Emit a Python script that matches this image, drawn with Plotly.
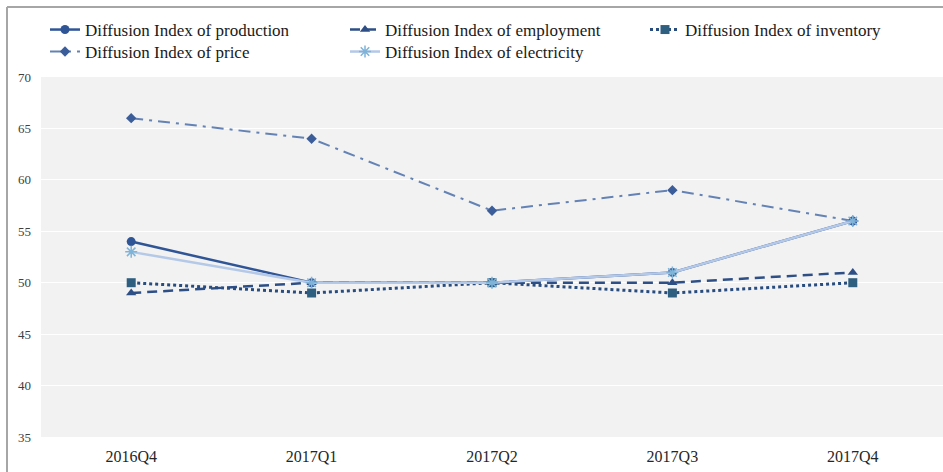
import plotly.graph_objects as go

categories = ["2016Q4", "2017Q1", "2017Q2", "2017Q3", "2017Q4"]
production = [54, 50, 50, 51, 56]
employment = [49, 50, 50, 50, 51]
inventory = [50, 49, 50, 49, 50]
price = [66, 64, 57, 59, 56]
electricity = [53, 50, 50, 51, 56]
y_ticks = [35, 40, 45, 50, 55, 60, 65, 70]

FONT = "Liberation Serif, Times New Roman, serif"

fig = go.Figure()
fig.add_trace(go.Scatter(x=categories, y=production, name="Diffusion Index of production",
                         legend="legend",
                         mode="lines+markers", line=dict(color="#2F5597", width=2.5),
                         marker=dict(symbol="circle", size=9, color="#2F5597")))
fig.add_trace(go.Scatter(x=categories, y=employment, name="Diffusion Index of employment",
                         legend="legend",
                         mode="lines+markers", line=dict(color="#2E4F86", width=2.5, dash="10px,6px"),
                         marker=dict(symbol="triangle-up", size=9, color="#2E4F86")))
fig.add_trace(go.Scatter(x=categories, y=inventory, name="Diffusion Index of inventory",
                         legend="legend",
                         mode="lines+markers", line=dict(color="#284C7E", width=3, dash="dot"),
                         marker=dict(symbol="square", size=9, color="#2F5F80")))
fig.add_trace(go.Scatter(x=categories, y=price, name="Diffusion Index of price",
                         legend="legend2",
                         mode="lines+markers", line=dict(color="#6483B4", width=2, dash="12px,6px,3px,6px"),
                         marker=dict(symbol="diamond", size=8, color="#3B5D99")))
fig.add_trace(go.Scatter(x=categories, y=electricity, name="Diffusion Index of electricity",
                         legend="legend2",
                         mode="lines+markers", line=dict(color="#B4C8E8", width=2.5),
                         marker=dict(symbol="asterisk-open", size=10, color="#7FB3D8",
                                     line=dict(width=1.5, color="#7FB3D8"))))

leg_common = dict(orientation="h", xanchor="left", yanchor="middle",
                  font=dict(family=FONT, size=17, color="#1A1A1A"),
                  entrywidth=255, entrywidthmode="pixels",
                  itemwidth=30, bgcolor="rgba(0,0,0,0)")

PLOT_L, PLOT_T, PLOT_B = 41, 77, 35
PLOT_H = 472 - PLOT_T - PLOT_B
PLOT_W = 943 - PLOT_L

fig.update_layout(
    width=943, height=472,
    margin=dict(l=PLOT_L, r=0, t=PLOT_T, b=PLOT_B, autoexpand=False),
    paper_bgcolor="white",
    plot_bgcolor="#F2F2F2",
    font=dict(family=FONT, size=13, color="#404040"),
    showlegend=True,
    legend=dict(x=4 / PLOT_W, y=(PLOT_H + PLOT_T - 30) / PLOT_H, **leg_common),
    legend2=dict(x=4 / PLOT_W, y=(PLOT_H + PLOT_T - 52) / PLOT_H, **leg_common),
    xaxis=dict(type="category", range=[-0.5, 4.5], showgrid=False, zeroline=False,
               showline=False, ticks="", automargin=False, ticklabelstandoff=8,
               tickfont=dict(family=FONT, size=16, color="#262626")),
    yaxis=dict(range=[35, 70], tickvals=y_ticks, showgrid=True, gridcolor="white",
               gridwidth=1, zeroline=False, showline=False, ticks="", automargin=False,
               ticklabelstandoff=9,
               tickfont=dict(family=FONT, size=13, color="#404040")),
)

# outer frame (left and top edges of the original picture's border)
x_frame = (7 - PLOT_L) / PLOT_W
y_frame = (PLOT_H + PLOT_T - 7) / PLOT_H
fig.add_shape(type="line", xref="paper", yref="paper",
              x0=x_frame, x1=x_frame, y0=-0.2, y1=y_frame,
              line=dict(color="#A6A6A6", width=2), layer="above")
fig.add_shape(type="line", xref="paper", yref="paper",
              x0=x_frame, x1=1.05, y0=y_frame, y1=y_frame,
              line=dict(color="#A6A6A6", width=2), layer="above")

fig.write_html("out.html", config={"displayModeBar": False},
               post_script=("document.documentElement.style.overflow='hidden';"
                            "document.body.style.overflow='hidden';"
                            "document.body.style.margin='0';"))
